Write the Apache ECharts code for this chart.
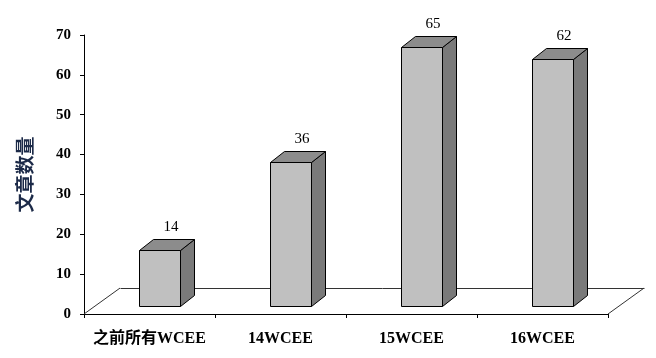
<!DOCTYPE html>
<html>
<head>
<meta charset="utf-8">
<script src="https://cdn.jsdelivr.net/npm/echarts@6/dist/echarts.min.js"></script>
<style>html,body{margin:0;padding:0;background:#fff;}#c{width:656px;height:358px;}</style>
</head>
<body>
<div id="c"></div>
<script>
var categories = ['之前所有WCEE', '14WCEE', '15WCEE', '16WCEE'];
var values = [14, 36, 65, 62];
var yTicks = [0, 10, 20, 30, 40, 50, 60, 70];
var yTitle = '文章数量';

var FLOOR_DX = 0.275, FLOOR_RATIO = 0.72, BAR_POS = 0.3, BAR_W = 0.313, BAR_D = 0.11, BAR_RATIO = 0.73;
function p(v){ return Math.round(v - 0.5) + 0.5; }

var chart = echarts.init(document.getElementById('c'), null, {renderer: 'canvas'});
var serif = '"Liberation Serif", "Times New Roman", "Noto Sans CJK SC", serif';

chart.setOption({
  animation: false,
  backgroundColor: '#fff',
  grid: {left: 84, right: 48, top: 35, bottom: 44},
  xAxis: {
    type: 'category',
    data: categories,
    boundaryGap: true,
    axisLine: {lineStyle: {color: '#000', width: 1}},
    axisTick: {show: true, length: 4, interval: 0, lineStyle: {color: '#000'}},
    axisLabel: {margin: 17, interval: 0, hideOverlap: false, fontFamily: serif, fontWeight: 'bold', fontSize: 16, color: '#000'}
  },
  yAxis: {
    type: 'value',
    min: yTicks[0], max: yTicks[yTicks.length - 1], interval: 10,
    name: yTitle, nameLocation: 'middle', nameRotate: 90, nameGap: 50,
    nameTextStyle: {fontFamily: '"Noto Sans CJK SC", serif', fontWeight: 'bold', fontSize: 19, color: '#1c2a48'},
    axisLine: {show: true, lineStyle: {color: '#000', width: 1}},
    axisTick: {show: true, length: 4, lineStyle: {color: '#000'}},
    axisLabel: {margin: 13, fontFamily: serif, fontWeight: 'bold', fontSize: 15, color: '#000'},
    splitLine: {show: false}
  },
  series: [
    {
      type: 'custom',
      z: 1,
      silent: true,
      data: [[0, 0]],
      renderItem: function (params, api) {
        var band = api.size([1, 0])[0];
        var n = categories.length;
        var a = api.coord([0, 0]);
        var b = api.coord([n - 1, 0]);
        var lf = a[0] - band / 2, rf = b[0] + band / 2, y = a[1];
        var dx = band * FLOOR_DX, dy = dx * FLOOR_RATIO;
        var st = {stroke: '#333', lineWidth: 1};
        return {
          type: 'group',
          children: [
            {type: 'line', shape: {x1: p(lf + dx), y1: p(y - dy), x2: p(rf + dx), y2: p(y - dy)}, style: st},
            {type: 'line', shape: {x1: lf, y1: y, x2: lf + dx, y2: y - dy}, style: st},
            {type: 'line', shape: {x1: rf, y1: y, x2: rf + dx, y2: y - dy}, style: st}
          ]
        };
      }
    },
    {
      type: 'custom',
      z: 2,
      data: values.map(function (v, i) { return [i, v]; }),
      renderItem: function (params, api) {
        var idx = api.value(0), val = api.value(1);
        var base = api.coord([idx, 0]);
        var top = api.coord([idx, val]);
        var band = api.size([1, 0])[0];
        var fdx = band * FLOOR_DX, fdy = fdx * FLOOR_RATIO;
        var fx = fdx * BAR_POS, fy = fdy * BAR_POS;
        var w = band * BAR_W;
        var bx = band * BAR_D, by = bx * BAR_RATIO;
        var cx = base[0] + fx;
        var L = p(cx - w / 2), R = p(cx + w / 2);
        var B = p(base[1] - fy), T = p(top[1] - fy);
        var R2 = R + Math.round(bx), T2 = T - Math.round(by), B2 = B - Math.round(by);
        var st = {stroke: '#000', lineWidth: 1, lineJoin: 'miter'};
        return {
          type: 'group',
          children: [
            {type: 'polygon', shape: {points: [[R, B], [R2, B2], [R2, T2], [R, T]]}, style: Object.assign({fill: '#7a7a7a'}, st)},
            {type: 'polygon', shape: {points: [[L, T], [L + Math.round(bx), T2], [R2, T2], [R, T]]}, style: Object.assign({fill: '#8c8c8c'}, st)},
            {type: 'rect', shape: {x: L, y: T, width: R - L, height: B - T}, style: Object.assign({fill: '#c0c0c0'}, st)},
            {type: 'text', style: {text: String(val), x: cx + bx * 0.75, y: T2 - 12, align: 'center', verticalAlign: 'middle',
              font: '15px ' + serif, fill: '#000'}}
          ]
        };
      }
    }
  ]
});
</script>
</body>
</html>
